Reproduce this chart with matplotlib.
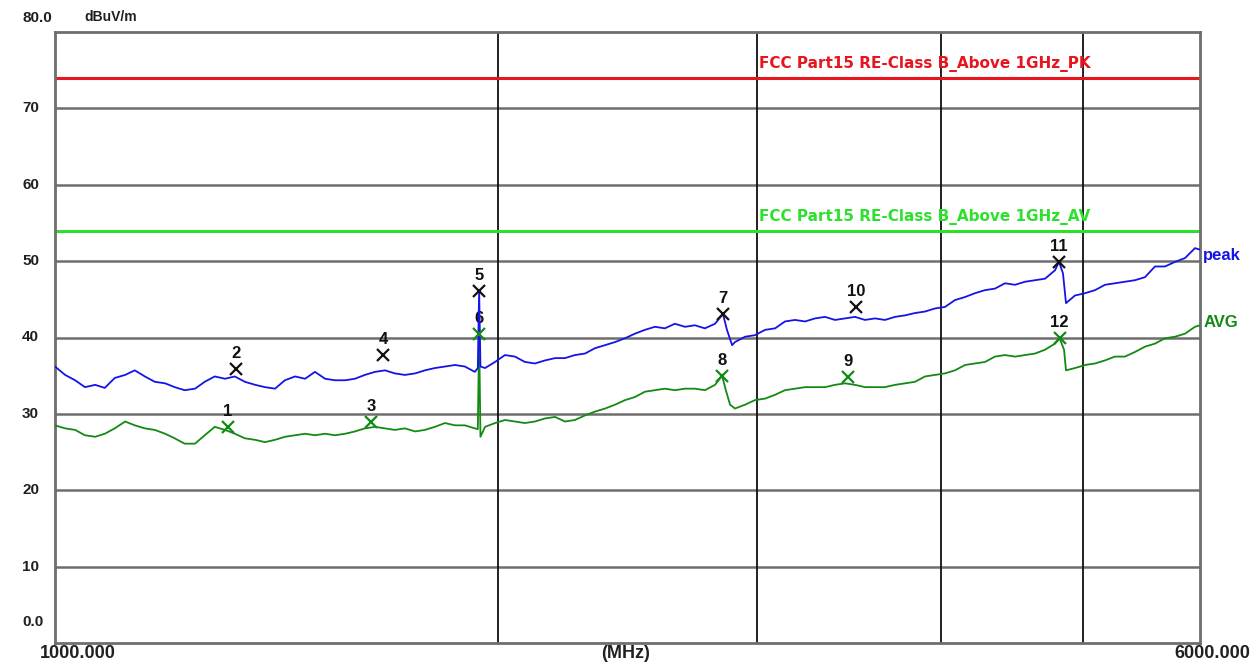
import matplotlib.pyplot as plt
import matplotlib.transforms as mtransforms
import numpy as np

plt.rcParams['font.family'] = ['Liberation Sans', 'DejaVu Sans']

# sweep points (MHz) shared by both detector traces
freq_mhz = [
    1000, 1016, 1032, 1048, 1065, 1081, 1098, 1116, 1133, 1151,
    1169, 1188, 1206, 1225, 1245, 1264, 1284, 1305, 1325, 1346,
    1368, 1389, 1411, 1433, 1456, 1479, 1502, 1526, 1550, 1575,
    1599, 1624, 1650, 1676, 1702, 1729, 1757, 1784, 1812, 1841,
    1870, 1899, 1929, 1960, 1991, 2022, 2054, 2086, 2119, 2153,
    2187, 2221, 2256, 2292, 2328, 2365, 2402, 2440, 2478, 2517,
    2557, 2597, 2638, 2680, 2722, 2765, 2809, 2898, 2944,
    2990, 3038, 3086, 3134, 3184, 3234, 3285, 3337, 3389, 3443,
    3497, 3552, 3608, 3665, 3723, 3782, 3841, 3902, 3963, 4026,
    4089, 4154, 4219, 4286, 4353, 4422, 4492, 4563, 4635, 4708,
    4782, 4934, 5012, 5091, 5171, 5252, 5335, 5419, 5505,
    5592, 5680, 5770, 5861, 5953, 6000,
]

peak_dbuv = [
    36.2, 35.1, 34.4, 33.5, 33.8, 33.4, 34.7, 35.1, 35.7, 34.9,
    34.2, 34.0, 33.5, 33.1, 33.3, 34.2, 34.9, 34.6, 34.9, 34.2,
    33.8, 33.5, 33.3, 34.4, 34.9, 34.6, 35.5, 34.6, 34.4, 34.4,
    34.6, 35.1, 35.5, 35.7, 35.3, 35.1, 35.3, 35.7, 36.0, 36.2,
    36.4, 36.2, 35.5, 36.0, 36.8, 37.7, 37.5, 36.8, 36.6, 37.0,
    37.3, 37.3, 37.7, 37.9, 38.6, 39.0, 39.4, 39.9, 40.5, 41.0,
    41.4, 41.2, 41.8, 41.4, 41.6, 41.2, 41.8, 39.4, 40.1,
    40.3, 41.0, 41.2, 42.1, 42.3, 42.1, 42.5, 42.7, 42.3, 42.5,
    42.7, 42.3, 42.5, 42.3, 42.7, 42.9, 43.2, 43.4, 43.8, 44.0,
    44.9, 45.3, 45.8, 46.2, 46.4, 47.1, 46.9, 47.3, 47.5, 47.7,
    48.8, 45.5, 45.8, 46.2, 46.9, 47.1, 47.3, 47.5, 47.9,
    49.3, 49.3, 49.9, 50.4, 51.7, 51.5,
]

avg_dbuv = [
    28.5, 28.1, 27.9, 27.2, 27.0, 27.4, 28.1, 29.0, 28.5, 28.1,
    27.9, 27.4, 26.8, 26.1, 26.1, 27.2, 28.3, 27.9, 27.4, 26.8,
    26.6, 26.3, 26.6, 27.0, 27.2, 27.4, 27.2, 27.4, 27.2, 27.4,
    27.7, 28.1, 28.3, 28.1, 27.9, 28.1, 27.7, 27.9, 28.3, 28.8,
    28.5, 28.5, 28.1, 28.3, 28.8, 29.2, 29.0, 28.8, 29.0, 29.4,
    29.6, 29.0, 29.2, 29.8, 30.3, 30.7, 31.2, 31.8, 32.2, 32.9,
    33.1, 33.3, 33.1, 33.3, 33.3, 33.1, 33.8, 30.7, 31.2,
    31.8, 32.0, 32.5, 33.1, 33.3, 33.5, 33.5, 33.5, 33.8, 34.0,
    33.8, 33.5, 33.5, 33.5, 33.8, 34.0, 34.2, 34.9, 35.1, 35.3,
    35.7, 36.4, 36.6, 36.8, 37.5, 37.7, 37.5, 37.7, 37.9, 38.4,
    39.2, 36.0, 36.4, 36.6, 37.0, 37.5, 37.5, 38.1, 38.8,
    39.2, 39.9, 40.1, 40.5, 41.4, 41.6,
]

# extra sweep points around the emissions at ~1.94, ~2.84 and ~4.81 GHz
peak_spike_mhz = [1938, 1942, 1946, 2844, 2862, 2885, 4812, 4842, 4865]
peak_spike_dbuv = [36.0, 46.1, 36.2, 43.1, 41.0, 39.0, 49.9, 48.4, 44.5]
avg_spike_mhz = [1938, 1942, 1946, 2840, 2857, 2876, 4817, 4850, 4865]
avg_spike_dbuv = [28.0, 40.5, 27.0, 35.0, 33.1, 31.2, 39.9, 38.4, 35.7]

# marker table
marker_no = [1, 2, 3, 4, 5, 6, 7, 8, 9, 10, 11, 12]
marker_mhz = [1311, 1327, 1640, 1671, 1942, 1942, 2844, 2840, 3459, 3503, 4812, 4817]
marker_dbuv = [28.3, 35.9, 29.0, 37.7, 46.1, 40.5, 43.1, 35.0, 34.8, 44.0, 49.9, 39.9]
marker_det = ['AV', 'PK', 'AV', 'PK', 'PK', 'AV', 'PK', 'AV', 'AV', 'PK', 'PK', 'AV']

limit_pk = 74.0
limit_av = 54.0
limit_pk_label = 'FCC Part15 RE-Class B_Above 1GHz_PK'
limit_av_label = 'FCC Part15 RE-Class B_Above 1GHz_AV'

BLUE = '#1414e6'
GREEN = '#138a13'
RED = '#e8141e'
LIME = '#2ee02e'
INK = '#202020'


def merged(f, v, fx, vx):
    f = np.concatenate([f, fx])
    v = np.concatenate([v, vx])
    order = np.argsort(f, kind='stable')
    return f[order], v[order]


fig = plt.figure(figsize=(12.57, 6.66), dpi=100)
ax = fig.add_axes([55 / 1257, 1 - 643 / 666, 1145 / 1257, 611 / 666])

ax.set_xscale('log')
ax.set_xlim(1000, 6000)
ax.set_ylim(0, 80)

# grid: grey horizontals, black verticals
for y in range(10, 80, 10):
    ax.axhline(y, color='#6e6e6e', lw=1.8, zorder=1)
for f in (2000, 3000, 4000, 5000):
    ax.axvline(f, color='#101010', lw=1.3, zorder=1)
for s in ax.spines.values():
    s.set_color('#6e6e6e')
    s.set_linewidth(2)
ax.set_xticks([])
ax.set_yticks([])
ax.minorticks_off()

# limit lines
ax.axhline(limit_pk, color=RED, lw=2.2, zorder=2)
ax.axhline(limit_av, color=LIME, lw=2.2, zorder=2)
ax.annotate(limit_pk_label, (3010, limit_pk), xytext=(0, 4), textcoords='offset points',
            color=RED, fontsize=11, fontweight='bold', family='DejaVu Sans',
            ha='left', va='bottom')
ax.annotate(limit_av_label, (3010, limit_av), xytext=(0, 4), textcoords='offset points',
            color=LIME, fontsize=11, fontweight='bold', family='DejaVu Sans',
            ha='left', va='bottom')

# traces
fp, vp = merged(freq_mhz, peak_dbuv, peak_spike_mhz, peak_spike_dbuv)
fa, va = merged(freq_mhz, avg_dbuv, avg_spike_mhz, avg_spike_dbuv)
ax.plot(fa, va, color=GREEN, lw=1.3, zorder=3)
ax.plot(fp, vp, color=BLUE, lw=1.3, zorder=4)

trans = mtransforms.blended_transform_factory(ax.transAxes, ax.transData)
ax.text(1.003, 50.7, 'peak', transform=trans, color=BLUE, fontsize=12,
        fontweight='bold', ha='left', va='center')
ax.text(1.003, 41.9, 'AVG', transform=trans, color=GREEN, fontsize=12,
        fontweight='bold', ha='left', va='center')

# markers
for n, f, v, d in zip(marker_no, marker_mhz, marker_dbuv, marker_det):
    c = '#111111' if d == 'PK' else GREEN
    ax.plot(f, v, marker='x', ms=9, mew=1.6, color=c, zorder=5)
    ax.annotate(str(n), (f, v), xytext=(0, 11), textcoords='offset points',
                ha='center', va='center', fontsize=12, fontweight='bold', color='#111111')

# axis labels
ylabels = {80: '80.0', 70: '70', 60: '60', 50: '50', 40: '40', 30: '30', 20: '20', 10: '10', 0: '0.0'}
for y, s in ylabels.items():
    yy = y
    if y == 80:
        yy = 81.8
    elif y == 0:
        yy = 2.7
    ax.text(-0.0288, yy, s, transform=trans, fontsize=11, fontweight='bold',
            ha='left', va='center', color=INK, clip_on=False)
ax.text(0.026, 81.9, 'dBuV/m', transform=trans, fontsize=10, fontweight='bold',
        ha='left', va='center', color=INK)

ax.text(0.020, -0.018, '1000.000', transform=ax.transAxes, fontsize=13, fontweight='bold',
        ha='center', va='center', color=INK)
ax.text(0.498, -0.018, '(MHz)', transform=ax.transAxes, fontsize=13, fontweight='bold',
        ha='center', va='center', color=INK)
ax.text(1.011, -0.018, '6000.000', transform=ax.transAxes, fontsize=13, fontweight='bold',
        ha='center', va='center', color=INK)

fig.savefig('out.png', dpi=100, facecolor='white')
